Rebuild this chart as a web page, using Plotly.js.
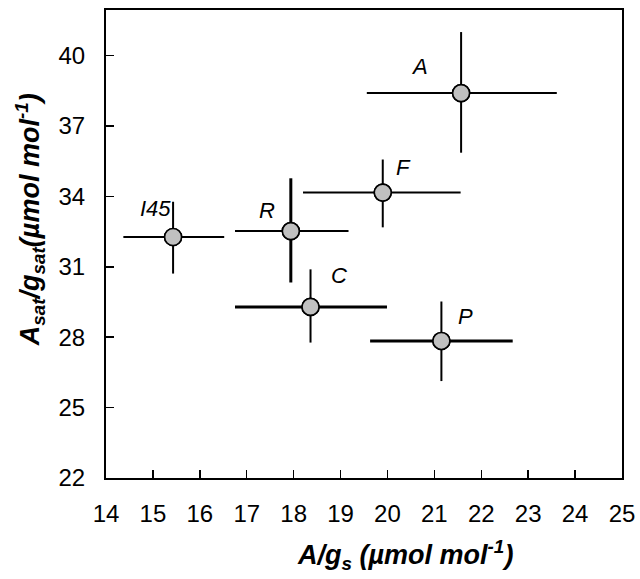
<!DOCTYPE html>
<html>
<head>
<meta charset="utf-8">
<script src="https://cdn.plot.ly/plotly-3.0.1.min.js"></script>
<style>html,body{margin:0;padding:0;background:#fff;}#chart{width:640px;height:579px;}</style>
</head>
<body>
<div id="chart"></div>
<script>
// Data
var names = ['I45', 'R', 'C', 'F', 'P', 'A'];
var xVals = [15.43, 17.94, 18.36, 19.90, 21.15, 21.57];
var yVals = [32.27, 32.52, 29.29, 34.16, 27.84, 38.40];
var xErrPlus = [1.09, 1.23, 1.63, 1.66, 1.52, 2.04];
var xErrMinus = [1.06, 1.19, 1.61, 1.70, 1.52, 2.01];
var yErrPlus = [1.50, 2.25, 1.60, 1.41, 1.68, 2.60];
var yErrMinus = [1.56, 2.19, 1.52, 1.48, 1.71, 2.54];
var xTickVals = [14, 15, 16, 17, 18, 19, 20, 21, 22, 23, 24, 25];
var yTickVals = [22, 25, 28, 31, 34, 37, 40];

// Styles (not data)
var xBarWidth = [2, 2, 3, 2, 3, 2];
var yBarWidth = [2, 3, 2, 2, 2, 2];
var labelShift = [[-18, 28], [-24, 21], [28, 31], [21, 25], [24, 24], [-42, 27]];

var FONT = 'Liberation Sans, Arial, sans-serif';
var traces = [];
for (var i = 0; i < names.length; i++) {
  traces.push({
    type: 'scatter', mode: 'markers',
    x: [xVals[i]], y: [yVals[i]],
    marker: {size: 17, color: '#c0c0c0', line: {color: '#000', width: 1.6}},
    error_x: {type: 'data', symmetric: false, array: [xErrPlus[i]], arrayminus: [xErrMinus[i]],
              color: '#000', thickness: xBarWidth[i], width: 0},
    error_y: {type: 'data', symmetric: false, array: [yErrPlus[i]], arrayminus: [yErrMinus[i]],
              color: '#000', thickness: yBarWidth[i], width: 0},
    hoverinfo: 'skip', showlegend: false
  });
}
// markers on top of all bars
traces.push({
  type: 'scatter', mode: 'markers', x: xVals, y: yVals,
  marker: {size: 17, color: '#c0c0c0', line: {color: '#000', width: 1.6}},
  hoverinfo: 'skip', showlegend: false
});

var annotations = names.map(function (n, i) {
  return {x: xVals[i], y: yVals[i], xref: 'x', yref: 'y', text: '<i>' + n + '</i>',
          showarrow: false, xshift: labelShift[i][0], yshift: labelShift[i][1],
          font: {family: FONT, size: 22, color: '#000'}};
});
annotations.push({
  xref: 'paper', yref: 'paper', x: -0.147, y: 0.551, xanchor: 'center', yanchor: 'middle',
  textangle: -90, showarrow: false,
  text: '<b><i>A<sub>sat</sub>/g<sub>sat</sub>(µmol mol<sup>-1</sup>)</i></b>',
  font: {family: FONT, size: 27, color: '#000'}
});
annotations.push({
  xref: 'paper', yref: 'paper', x: 0.58, y: -0.165, xanchor: 'center', yanchor: 'middle',
  showarrow: false,
  text: '<b><i>A/g<sub>s</sub> (µmol mol<sup>-1</sup>)</i></b>',
  font: {family: FONT, size: 27, color: '#000'}
});

var layout = {
  width: 640, height: 579,
  margin: {l: 106, r: 18, t: 10, b: 101, pad: 0},
  paper_bgcolor: '#fff', plot_bgcolor: '#fff',
  font: {family: FONT, color: '#000'},
  showlegend: false,
  xaxis: {range: [14, 25], tickvals: xTickVals, ticks: 'inside', ticklen: 8, tickwidth: 1.5,
          tickcolor: '#000', showline: true, linecolor: '#000', linewidth: 2, mirror: true,
          showgrid: false, zeroline: false, tickfont: {size: 24, family: FONT}, ticklabelstandoff: 13},
  yaxis: {range: [22, 41.94], tickvals: yTickVals, ticks: 'inside', ticklen: 8, tickwidth: 1.5,
          tickcolor: '#000', showline: true, linecolor: '#000', linewidth: 2, mirror: true,
          showgrid: false, zeroline: false, tickfont: {size: 24, family: FONT}, ticklabelstandoff: 14},
  annotations: annotations
};

Plotly.newPlot('chart', traces, layout, {displayModeBar: false, staticPlot: true});
</script>
</body>
</html>
